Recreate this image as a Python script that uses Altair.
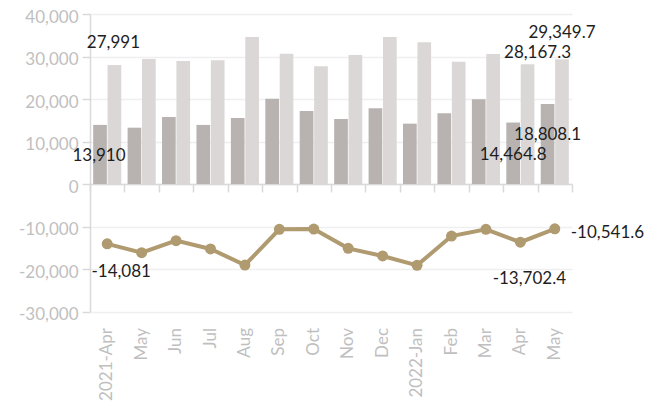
import json
import altair as alt
import pandas as pd

months = ["2021-Apr", "May", "Jun", "Jul", "Aug", "Sep", "Oct", "Nov", "Dec",
          "2022-Jan", "Feb", "Mar", "Apr", "May"]
exports = [13910, 13250, 15760, 13900, 15530, 20080, 17180, 15290, 17800,
           14200, 16630, 19920, 14464.8, 18808.1]
imports = [27991, 29410, 28940, 29100, 34590, 30670, 27690, 30350, 34590,
           33330, 28780, 30590, 28167.3, 29349.7]
balance = [-14081, -16160, -13330, -15290, -19060, -10670, -10590, -15140,
           -16940, -19140, -12240, -10670, -13702.4, -10541.6]


def fmt(v):
    return f"{v:,.0f}" if float(v).is_integer() else f"{v:,.1f}"


rows = []
for i in range(len(months)):
    rows.append({"idx": i, "series": "a", "value": exports[i], "label": fmt(exports[i])})
    rows.append({"idx": i, "series": "b", "value": imports[i], "label": fmt(imports[i])})
bars_df = pd.DataFrame(rows)
line_df = pd.DataFrame({"idx": list(range(len(months))), "value": balance,
                        "label": [fmt(v) for v in balance]})

FONT = "Lato"
FS = 17
AXIS_GRAY = "#d9d9d9"
LABEL_GRAY = "#bfbfbf"
DARK = "#b8b3b1"
LIGHT = "#dbd7d6"
LINE = "#b09a70"
TXT = "#1e1e1e"

label_expr = json.dumps(months) + "[datum.value]"
xscale = alt.Scale(paddingInner=0, paddingOuter=0)
yscale = alt.Scale(domain=[-30000, 40000], nice=False)

x_ticks = alt.X("idx:O", scale=xscale, title=None,
                axis=alt.Axis(labels=False, grid=False, domain=True, domainColor=AXIS_GRAY,
                              domainWidth=1.5, ticks=True, tickColor=AXIS_GRAY, tickWidth=1.5,
                              tickSize=8, tickBand="extent", offset=-127.5, orient="bottom"))
x_labels = alt.X("idx:O", scale=xscale, title=None,
                 axis=alt.Axis(labelExpr=label_expr, labelAngle=-90, domain=False, ticks=False,
                               tickSize=0, labelPadding=16, grid=False, orient="bottom",
                               labelColor=LABEL_GRAY, labelFont=FONT, labelFontSize=FS))
x_none = alt.X("idx:O", scale=xscale, axis=None)

y_axis_def = alt.Axis(values=list(range(-30000, 40001, 10000)), format=",.0f",
                      labelExpr="replace(format(datum.value, ',.0f'), '\u2212', '-')",
                      domainColor=AXIS_GRAY, domainWidth=1.5, tickColor=AXIS_GRAY,
                      tickWidth=1.5, tickSize=8, gridColor="#efefef", gridWidth=1.5,
                      labelColor=LABEL_GRAY, labelFont=FONT, labelFontSize=FS,
                      labelPadding=4, labelOffset=3)
y_enc = alt.Y("value:Q", scale=yscale, title=None, axis=y_axis_def)

xoff = alt.XOffset("series:N", scale=alt.Scale(paddingInner=0.05, paddingOuter=0.22))

bars = alt.Chart(bars_df).mark_bar().encode(
    x=x_ticks, y=y_enc, xOffset=xoff,
    color=alt.Color("series:N", scale=alt.Scale(domain=["a", "b"], range=[DARK, LIGHT]),
                    legend=None),
)

line = alt.Chart(line_df).mark_line(color=LINE, strokeWidth=4).encode(x=x_labels, y=y_enc)
points = alt.Chart(line_df).mark_circle(color=LINE, size=120, opacity=1).encode(x=x_none, y=y_enc)


def bar_label(series, idx, dx, dy):
    return alt.Chart(bars_df).transform_filter(
        (alt.datum.series == series) & (alt.datum.idx == idx)
    ).mark_text(font=FONT, fontSize=FS, color=TXT, dx=dx, dy=dy, baseline="middle",
                align="center").encode(x=x_none, y=y_enc, xOffset=xoff, text="label:N")


def line_label(idx, dx, dy, align="center"):
    return alt.Chart(line_df).transform_filter(alt.datum.idx == idx).mark_text(
        font=FONT, fontSize=FS, color=TXT, dx=dx, dy=dy, baseline="middle", align=align
    ).encode(x=x_none, y=y_enc, text="label:N")


labels = [
    bar_label("a", 0, -1, 31),
    bar_label("a", 12, 0, 32),
    bar_label("a", 13, 0, 31),
    bar_label("b", 0, -1, -22),
    bar_label("b", 12, 10, -11),
    bar_label("b", 13, 0, -26),
    line_label(0, 14, 28),
    line_label(12, 9, 37),
    line_label(13, 16, 4, "left"),
]

chart = alt.layer(bars, line, points, *labels).resolve_axis(x="independent").properties(
    width=482, height=297.5,
    padding={"left": 82, "top": 6, "right": 73, "bottom": 92},
    autosize=alt.AutoSizeParams(type="none"),
).configure_view(stroke=None)

chart.save("out.html", embed_options={"renderer": "svg", "actions": False})
